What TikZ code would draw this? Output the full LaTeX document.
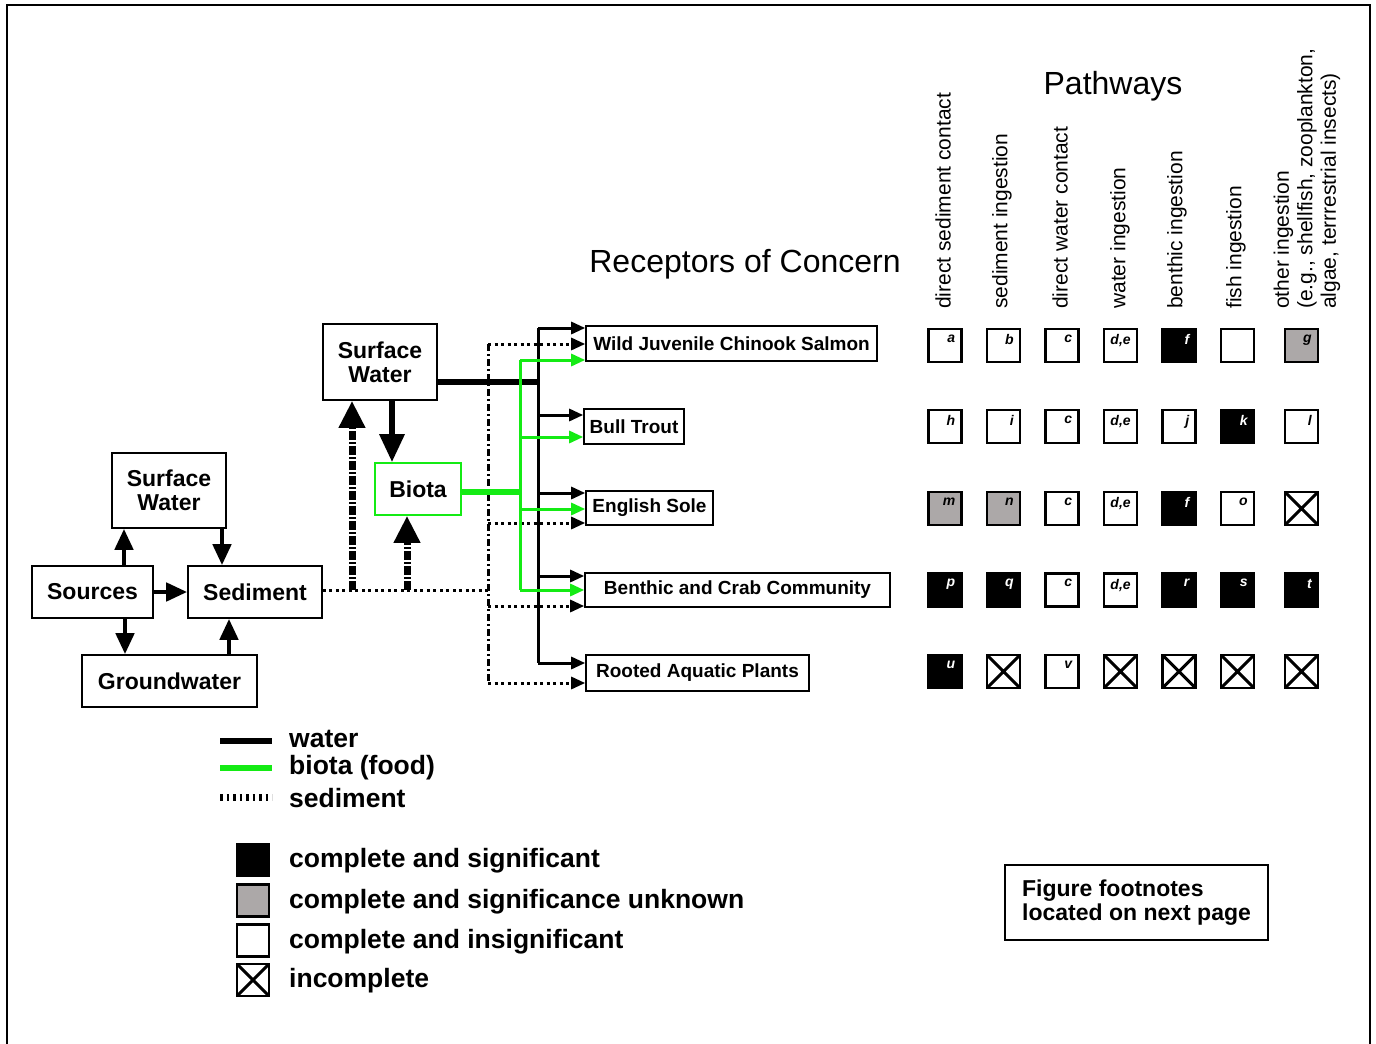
\documentclass[tikz,border=0pt]{standalone}
\usepackage{fontspec}
\setmainfont{Liberation Sans}
\usetikzlibrary{arrows.meta,calc}
\definecolor{bgreen}{RGB}{20,235,20}
\definecolor{gfill}{RGB}{172,168,168}
\begin{document}
\begin{tikzpicture}[x=1pt,y=-1pt,
  box/.style={draw, line width=1.6pt, inner sep=0pt, align=center, font=\fontsize{23}{24}\selectfont\bfseries},
  rbox/.style={draw, line width=1.6pt, inner sep=0pt, font=\fontsize{19}{20}\selectfont\bfseries},
  warr/.style={line width=4.5pt, -{Triangle[length=21pt,width=18pt]}},
  bigarr/.style={line width=6pt, -{Triangle[length=28pt,width=24pt]}},
  sedthick/.style={line width=7pt, dash pattern=on 9pt off 2pt on 2pt off 2pt, -{Triangle[length=27pt,width=25pt]}},
  wline/.style={line width=3pt},
  gline/.style={line width=3pt, draw=bgreen},
  sline/.style={line width=3pt, dash pattern=on 3pt off 3.5pt},
  dashdot/.style={line width=3pt, dash pattern=on 7pt off 3pt on 2pt off 3pt},
  rarr/.style={-{Triangle[length=14pt,width=12pt]}},
  sq/.style={draw, line width=2.8pt, minimum size=33pt, inner sep=0pt},
  wsq/.style={sq, fill=white},
  bsq/.style={sq, fill=black},
  gsq/.style={sq, fill=gfill},
  xsq/.style={sq, fill=white, path picture={\draw[line width=3pt] (path picture bounding box.north west) -- (path picture bounding box.south east) (path picture bounding box.north east) -- (path picture bounding box.south west);}},
  lbl/.style={font=\fontsize{14}{14}\selectfont\bfseries\itshape, inner sep=0pt, anchor=north east},
  head/.style={font=\fontsize{21}{23.5}\selectfont, rotate=90, anchor=west, inner sep=0pt},
  title/.style={font=\fontsize{32}{34}\selectfont},
  legtxt/.style={font=\fontsize{26.5}{28}\selectfont\bfseries, anchor=west, inner sep=0pt}
]
\useasboundingbox (0,0) rectangle (1376,1044);
\fill[white] (0,0) rectangle (1376,1044);
\draw[line width=2pt] (7,1044) -- (7,5) -- (1370,5) -- (1370,1044);

% left block
\node[box, minimum width=114pt, minimum height=75pt] (sw1) at (169,490.5) {Surface\\Water};
\node[box, minimum width=121pt, minimum height=52pt] (src) at (92.5,592) {Sources};
\node[box, minimum width=134pt, minimum height=52pt] (sed) at (255,592) {Sediment};
\node[box, minimum width=175pt, minimum height=52pt] (gw) at (169.5,681) {Groundwater};
\node[box, minimum width=114pt, minimum height=76pt] (sw2) at (380,362) {Surface\\Water};
\node[box, draw=bgreen, minimum width=86pt, minimum height=52pt] (biota) at (418,489) {Biota};

\draw[warr] ([xshift=31.5pt]src.north) -- ([xshift=-45pt]sw1.south);
\draw[warr] ([xshift=53pt]sw1.south) -- ([xshift=-33pt]sed.north);
\draw[warr] (src.east) -- (sed.west);
\draw[warr] ([xshift=32.5pt]src.south) -- ([xshift=-44.5pt]gw.north);
\draw[warr] ([xshift=59.5pt]gw.north) -- ([xshift=-26pt]sed.south);

% receptors
\node[rbox, minimum width=291pt, minimum height=35pt] (wild) at (731.5,343.5) {Wild Juvenile Chinook Salmon};
\node[rbox, minimum width=100pt, minimum height=35pt] (bull) at (634,426.5) {Bull Trout};
\node[rbox, minimum width=127pt, minimum height=34pt] (eng) at (649.5,508) {English Sole};
\node[rbox, minimum width=305pt, minimum height=34pt] (ben) at (737.5,590) {Benthic and Crab Community};
\node[rbox, minimum width=223pt, minimum height=36pt] (root) at (697.5,673) {Rooted Aquatic Plants};

% junction coordinates
\coordinate (sj) at (488,590);
\coordinate (s1) at (352,590);
\coordinate (s2) at (407,590);
\coordinate (jw1) at (538,328); \coordinate (jb1) at (538,415); \coordinate (je1) at (538,493);
\coordinate (jn1) at (538,576); \coordinate (jr1) at (538,663); \coordinate (bj) at (538,382);
\coordinate (jw2) at (520,360); \coordinate (jb2) at (520,437); \coordinate (je2) at (520,509);
\coordinate (jn2) at (520,590); \coordinate (gj) at (520,492);
\coordinate (jw3) at (488,344); \coordinate (je3) at (488,523); \coordinate (jn3) at (488,606);
\coordinate (jr3) at (488,683);

% sediment pathways
\draw[sline] (sed.east |- sj) -- (sj);
\draw[dashdot] (jw3) -- (jr3);
\foreach \j/\r in {jw3/wild, je3/eng, jn3/ben, jr3/root} {\draw[sline, rarr] (\j) -- (\j -| \r.west);}
\draw[sedthick] (s1) -- (s1 |- sw2.south);
\draw[sedthick] (s2) -- (s2 |- biota.south);

% water pathways
\draw[bigarr] ([xshift=12pt]sw2.south) -- ([xshift=-26pt]biota.north);
\draw[line width=6pt] (sw2.east |- bj) -- (bj);
\draw[wline] (jw1) -- (jr1);
\foreach \j/\r in {jw1/wild, jb1/bull, je1/eng, jn1/ben, jr1/root} {\draw[wline, rarr] (\j) -- (\j -| \r.west);}

% biota pathways
\draw[line width=6pt, draw=bgreen] (biota.east |- gj) -- (gj);
\draw[gline] (jw2) -- (jn2);
\foreach \j/\r in {jw2/wild, jb2/bull, je2/eng, jn2/ben} {\draw[gline, rarr, bgreen] (\j) -- (\j -| \r.west);}

% titles
\node[title] (rtitle) at (745,264) {Receptors of Concern};
\node[title] (ptitle) at (1113,86) {Pathways};
\node[head] (h1) at (943,309) {direct sediment contact};
\node[head] (h2) at (1002,309) {sediment ingestion};
\node[head] (h3) at (1060,309) {direct water contact};
\node[head] (h4) at (1120,309) {water ingestion};
\node[head] (h5) at (1177,309) {benthic ingestion};
\node[head] (h6) at (1236,309) {fish ingestion};
\node[head, align=left] (h7) at (1307,309) {other ingestion\\(e.g., shellfish, zooplankton,\\algae, terrrestrial insects)};

% matrix
\foreach \cx/\cy/\st/\lb/\lc [count=\i] in {
  945/345.5/wsq/a/black, 1003.5/345.5/wsq/b/black, 1062/345.5/wsq/c/black, {1120.5/345.5/wsq/d,e/black}, 1179/345.5/bsq/f/white, 1237.5/345.5/wsq/{}/black, 1301.5/345.5/gsq/g/black,
  945/426.5/wsq/h/black, 1003.5/426.5/wsq/i/black, 1062/426.5/wsq/c/black, {1120.5/426.5/wsq/d,e/black}, 1179/426.5/wsq/j/black, 1237.5/426.5/bsq/k/white, 1301.5/426.5/wsq/l/black,
  945/508.5/gsq/m/black, 1003.5/508.5/gsq/n/black, 1062/508.5/wsq/c/black, {1120.5/508.5/wsq/d,e/black}, 1179/508.5/bsq/f/white, 1237.5/508.5/wsq/o/black, 1301.5/508.5/xsq/{}/black,
  945/590/bsq/p/white, 1003.5/590/bsq/q/white, 1062/590/wsq/c/black, {1120.5/590/wsq/d,e/black}, 1179/590/bsq/r/white, 1237.5/590/bsq/s/white, 1301.5/590/bsq/t/white,
  945/671.5/bsq/u/white, 1003.5/671.5/xsq/{}/black, 1062/671.5/wsq/v/black, 1120.5/671.5/xsq/{}/black, 1179/671.5/xsq/{}/black, 1237.5/671.5/xsq/{}/black, 1301.5/671.5/xsq/{}/black}
{\node[\st] (q\i) at (\cx,\cy) {};
 \node[lbl, text=\lc] (ql\i) at ([xshift=-7.5pt,yshift=-7pt]q\i.north east) {\lb};}

% legend lines
\coordinate (l1a) at (220,741); \coordinate (l1b) at (272,741);
\coordinate (l2a) at (220,768); \coordinate (l2b) at (272,768);
\coordinate (l3a) at (220,797); \coordinate (l3b) at (272,797);
\draw[line width=6pt] (l1a) -- (l1b);
\draw[line width=6pt, draw=bgreen] (l2a) -- (l2b);
\draw[line width=7pt, dash pattern=on 2.5pt off 4pt] (l3a) -- (l3b);
\node[legtxt] (t1) at (289,739) {water};
\node[legtxt] (t2) at (289,768) {biota (food)};
\node[legtxt] (t3) at (289,798) {sediment};

% legend squares
\node[bsq, minimum size=32pt] (k1) at (253,860) {};
\node[gsq, minimum size=32pt] (k2) at (253,900.5) {};
\node[wsq, minimum size=32pt] (k3) at (253,940.5) {};
\node[xsq, minimum size=32pt] (k4) at (253,980) {};
\node[legtxt] (t4) at (289,861) {complete and significant};
\node[legtxt] (t5) at (289,902) {complete and significance unknown};
\node[legtxt] (t6) at (289,942) {complete and insignificant};
\node[legtxt] (t7) at (289,981) {incomplete};

% footnote box
\node[draw, line width=1.6pt, minimum width=263pt, minimum height=75pt, inner sep=0pt, align=left, font=\fontsize{23}{24}\selectfont\bfseries] (fn) at (1136.5,902.5) {Figure footnotes\\located on next page};
\end{tikzpicture}
\end{document}
